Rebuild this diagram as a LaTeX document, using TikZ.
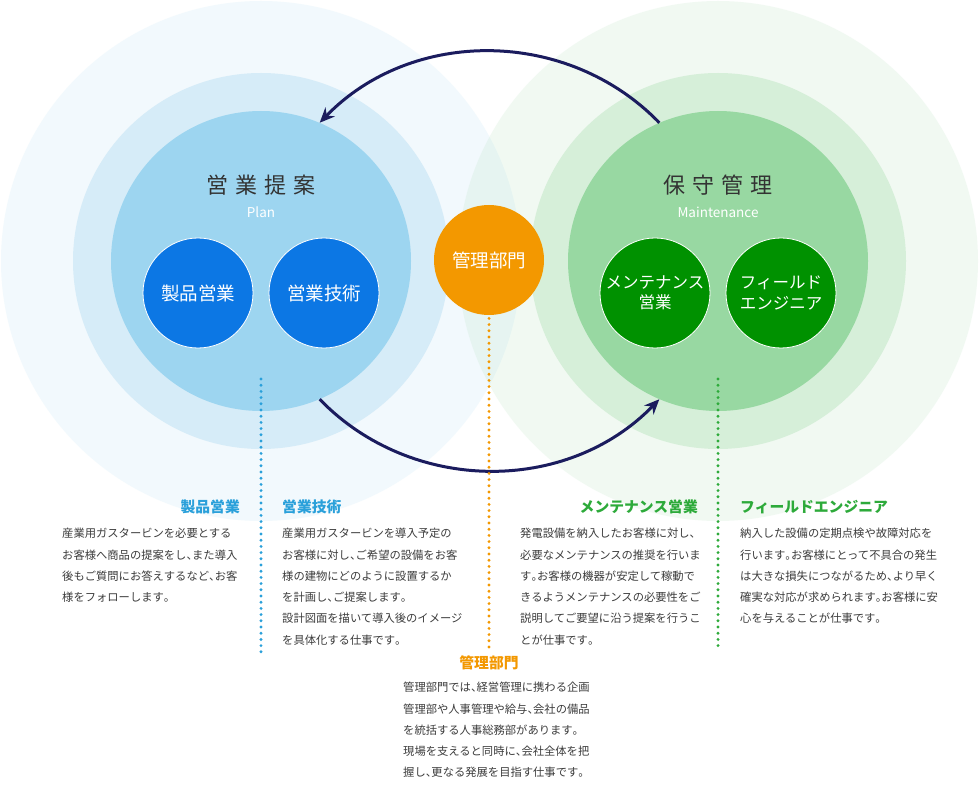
\documentclass[tikz,border=0pt]{standalone}
\usepackage{fontspec}
\setmainfont{Noto Sans CJK JP}
\usetikzlibrary{arrows.meta, positioning}
\definecolor{planInner}{HTML}{9DD5F0}
\definecolor{planMid}{HTML}{D6ECF8}
\definecolor{planSub}{HTML}{0C77E4}
\definecolor{planDot}{HTML}{2AA0DA}
\definecolor{maintInner}{HTML}{98D8A2}
\definecolor{maintMid}{HTML}{D6EFD9}
\definecolor{maintSub}{HTML}{009100}
\definecolor{maintDot}{HTML}{2DAA3A}
\definecolor{kanriOrange}{HTML}{F39800}
\definecolor{cycleNavy}{HTML}{1B1C5E}
\definecolor{bodyGray}{HTML}{3C3C3C}
\definecolor{titleGray}{HTML}{333333}
% narrow punctuation
\newcommand{\tn}{{\addfontfeature{RawFeature=+halt}、}}
\newcommand{\kt}{{\addfontfeature{RawFeature=+halt}。}}

\begin{document}
\begin{tikzpicture}[
    x=1pt, y=-1pt,
    ring_outer/.style={
        circle,
        inner sep=0pt,
        minimum size=520pt,
        fill opacity=0.13
    },
    ring_mid/.style={
        circle,
        inner sep=0pt,
        minimum size=376pt
    },
    ring_inner/.style={
        circle,
        inner sep=0pt,
        minimum size=300pt
    },
    sub_node/.style={
        circle,
        inner sep=0pt,
        minimum size=110pt,
        draw=white,
        line width=0.8pt,
        text=white,
        align=center,
        font=\fontsize{18.5}{21}\selectfont
    },
    ring_title/.style={
        text=titleGray,
        font=\fontsize{22}{26}\selectfont
    },
    ring_sub/.style={
        text=white,
        font=\fontsize{13.5}{15}\selectfont
    },
    cycle_arrow/.style={
        -{Stealth[length=15pt, width=13pt]},
        line width=3pt,
        draw=cycleNavy
    },
    dot_line/.style={
        line width=3.2pt,
        line cap=round,
        dash pattern=on 0pt off 6.2pt
    },
    desc_head/.style={
        inner sep=0pt,
        font=\bfseries\fontsize{14.8}{17}\selectfont
    },
    desc_text/.style={
        anchor=north west,
        inner sep=0pt,
        align=left,
        text=bodyGray,
        font=\fontsize{11.3}{21.3}\selectfont
    }
]
    \useasboundingbox (0,0) rectangle (980,802);
    \fill[white] (0,0) rectangle (980,802);

    % Rings
    \node[ring_outer, fill=planInner] (plan_outer) at (261,261) {};
    \node[ring_outer, fill=maintInner] (maint_outer) at (718,261) {};
    \node[ring_mid, fill=planMid] (plan_mid) at (261,261) {};
    \node[ring_mid, fill=maintMid] (maint_mid) at (718,261) {};
    \node[ring_inner, fill=planInner] (plan) at (261,261) {};
    \node[ring_inner, fill=maintInner] (maint) at (718,261) {};

    % Ring titles
    \node[ring_title] (plan_title) at (261,185) {営\kern7pt 業\kern7pt 提\kern7pt 案};
    \node[ring_sub] (plan_en) at (261,212) {Plan};
    \node[ring_title] (maint_title) at (718,185) {保\kern7pt 守\kern7pt 管\kern7pt 理};
    \node[ring_sub] (maint_en) at (718,212) {Maintenance};

    % Sections
    \node[sub_node, fill=planSub] (seihin) at (198,293) {製品営業};
    \node[sub_node, fill=planSub] (gijutsu) at (324,293) {営業技術};
    \node[sub_node, fill=maintSub, font=\fontsize{16.5}{20.5}\selectfont] (mente) at (655,293) {メンテナンス\\営業};
    \node[sub_node, fill=maintSub, font=\fontsize{16.5}{20.5}\selectfont] (field) at (781,293) {フィールド\\エンジニア};
    \node[circle, inner sep=0pt, minimum size=110pt, fill=kanriOrange,
          text=white, font=\fontsize{18.5}{21}\selectfont] (kanri) at (489,260) {管理部門};

    % Cycle
    \draw[cycle_arrow] (maint.113) .. controls +(-92,-95) and +(92,-95) .. (plan.67);
    \draw[cycle_arrow] (plan.-67) .. controls +(92,95) and +(-92,95) .. (maint.-113);

    % Leader lines
    \coordinate (plan_dot_top) at (261,379);
    \coordinate (plan_dot_end) at (261,657);
    \coordinate (kanri_dot_end) at (489,650);
    \coordinate (maint_dot_top) at (718,379);
    \coordinate (maint_dot_end) at (718,648);
    \draw[dot_line, draw=planDot] (plan_dot_top) -- (plan_dot_end);
    \draw[dot_line, draw=kanriOrange] ([yshift=3pt]kanri.south) -- (kanri_dot_end);
    \draw[dot_line, draw=maintDot] (maint_dot_top) -- (maint_dot_end);

    % Descriptions
    \node[desc_head, anchor=base east, text=planDot] (seihin_head) at (240,512) {製品営業};
    \node[desc_text] (seihin_text) at (62,528) {
        産業用ガスタービンを必要とする\\
        お客様へ商品の提案をし\tn また導入\\
        後もご質問にお答えするなど\tn お客\\
        様をフォローします\kt
    };

    \node[desc_head, anchor=base west, text=planDot] (gijutsu_head) at (282,512) {営業技術};
    \node[desc_text] (gijutsu_text) at (282,528) {
        産業用ガスタービンを導入予定の\\
        お客様に対し\tn ご希望の設備をお客\\
        様の建物にどのように設置するか\\
        を計画し\tn ご提案します\kt\\
        設計図面を描いて導入後のイメージ\\
        を具体化する仕事です\kt
    };

    \node[desc_head, anchor=base east, text=maintDot] (mente_head) at (698,512) {メンテナンス営業};
    \node[desc_text] (mente_text) at (520,528) {
        発電設備を納入したお客様に対し\tn\\
        必要なメンテナンスの推奨を行いま\\
        す\kt お客様の機器が安定して稼動で\\
        きるようメンテナンスの必要性をご\\
        説明してご要望に沿う提案を行うこ\\
        とが仕事です\kt
    };

    \node[desc_head, anchor=base west, text=maintDot] (field_head) at (740,512) {フィールドエンジニア};
    \node[desc_text] (field_text) at (740,528) {
        納入した設備の定期点検や故障対応を\\
        行います\kt お客様にとって不具合の発生\\
        は大きな損失につながるため\tn より早く\\
        確実な対応が求められます\kt お客様に安\\
        心を与えることが仕事です\kt
    };

    \node[desc_head, anchor=base, text=kanriOrange] (kanri_head) at (489,668) {管理部門};
    \node[desc_text] (kanri_text) at (403,682) {
        管理部門では\tn 経営管理に携わる企画\\
        管理部や人事管理や給与\tn 会社の備品\\
        を統括する人事総務部があります\kt\\
        現場を支えると同時に\tn 会社全体を把\\
        握し\tn 更なる発展を目指す仕事です\kt
    };
\end{tikzpicture}
\end{document}
